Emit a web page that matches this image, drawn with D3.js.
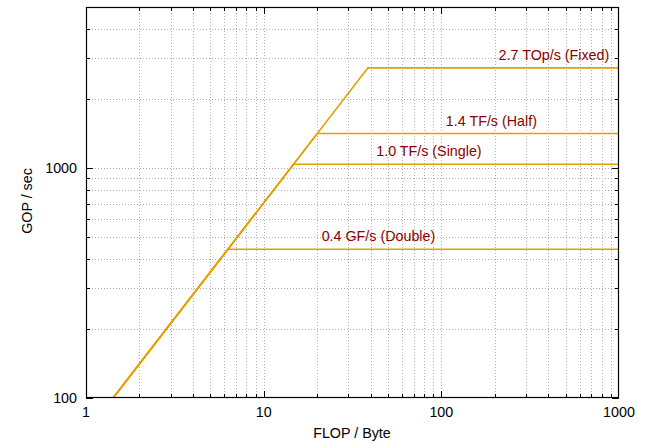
<!DOCTYPE html>
<html><head><meta charset="utf-8">
<script src="https://cdn.jsdelivr.net/npm/d3@7"></script>
<style>body{margin:0;background:#fff}svg{display:block}text{font-family:"Liberation Sans",Arial,sans-serif}</style>
</head><body><svg id="c" width="650" height="443"></svg>
<script>
// data
const seriesNames = ["Fixed", "Half", "Single", "Double"];
const peakGops = [2720, 1410, 1037, 443];
const peakLabels = ["2.7 TOp/s (Fixed)", "1.4 TF/s (Half)", "1.0 TF/s (Single)", "0.4 GF/s (Double)"];
const labelAtX = [210, 106, 43, 21.2]; // label start, in FLOP/Byte
const bandwidth = 70.4; // GB/s
const xTicks = [1, 10, 100, 1000];
const yTicks = [100, 1000];
const xDomain = [1, 1000];
const yDomain = [100, 5000];

const FS = 14.3;
const svg = d3.select("#c");
const m = {l: 86, r: 619, t: 7, b: 398};
const x = d3.scaleLog().domain(xDomain).range([m.l, m.r]);
const y = d3.scaleLog().domain(yDomain).range([m.b, m.t]);

function minorVals(dom) {
  const out = [];
  for (let d = Math.pow(10, Math.floor(Math.log10(dom[0]))); d < dom[1]; d *= 10)
    for (let k = 1; k < 10; k++) { const v = d * k; if (v >= dom[0] && v <= dom[1]) out.push(v); }
  return out;
}
const xAll = minorVals(xDomain), yAll = minorVals(yDomain);

// grid
const g = svg.append("g");
g.selectAll("line.gx").data(xAll.filter(v => v > xDomain[0] && v < xDomain[1])).join("line")
  .attr("x1", d => Math.round(x(d)) + 0.5).attr("x2", d => Math.round(x(d)) + 0.5)
  .attr("y1", m.t).attr("y2", m.b)
  .attr("stroke", "#b0b0b0").attr("stroke-dasharray", "1,2").attr("stroke-width", 1);
g.selectAll("line.gy").data(yAll.filter(v => v > yDomain[0] && v < yDomain[1])).join("line")
  .attr("y1", d => Math.round(y(d)) + 0.5).attr("y2", d => Math.round(y(d)) + 0.5)
  .attr("x1", m.l).attr("x2", m.r)
  .attr("stroke", "#b0b0b0").attr("stroke-dasharray", "1,2").attr("stroke-width", 1);

// ticks (inward, mirrored)
const isMajor = v => Math.abs(Math.log10(v) - Math.round(Math.log10(v))) < 1e-9;
const tk = svg.append("g").attr("stroke", "#000").attr("stroke-width", 1);
xAll.forEach(v => {
  const L = isMajor(v) ? 7 : 4, px = Math.round(x(v)) + 0.5;
  tk.append("line").attr("x1", px).attr("x2", px).attr("y1", m.b).attr("y2", m.b - L);
  tk.append("line").attr("x1", px).attr("x2", px).attr("y1", m.t).attr("y2", m.t + L);
});
yAll.forEach(v => {
  const L = isMajor(v) ? 7 : 4, py = Math.round(y(v)) + 0.5;
  tk.append("line").attr("y1", py).attr("y2", py).attr("x1", m.l).attr("x2", m.l + L);
  tk.append("line").attr("y1", py).attr("y2", py).attr("x1", m.r).attr("x2", m.r - L);
});

// roofline series
svg.append("clipPath").attr("id", "clip").append("rect")
  .attr("x", m.l).attr("y", m.t).attr("width", m.r - m.l).attr("height", m.b - m.t);
const line = d3.line().x(d => x(d[0])).y(d => y(d[1]));
const lg = svg.append("g").attr("clip-path", "url(#clip)");
peakGops.forEach((p, i) => {
  const pts = [[yDomain[0] / bandwidth, yDomain[0]], [p / bandwidth, p], [xDomain[1], p]];
  lg.append("path").attr("d", line(pts)).attr("fill", "none")
    .attr("stroke", "#e69f00").attr("stroke-width", 1.6).attr("data-series", seriesNames[i]);
});
peakGops.forEach((p, i) => {
  svg.append("text").attr("x", x(labelAtX[i])).attr("y", y(p) - 8)
    .attr("fill", "#8b0000").attr("font-size", FS).text(peakLabels[i]);
});

// frame
svg.append("rect").attr("x", m.l + 0.5).attr("y", m.t + 0.5)
  .attr("width", m.r - m.l - 1).attr("height", m.b - m.t - 1)
  .attr("fill", "none").attr("stroke", "#000").attr("stroke-width", 1.2);

// tick labels
svg.selectAll("text.xt").data(xTicks).join("text")
  .attr("x", d => x(d)).attr("y", m.b + 19).attr("text-anchor", "middle")
  .attr("font-size", FS).text(d => d);
svg.selectAll("text.yt").data(yTicks).join("text")
  .attr("x", m.l - 9).attr("y", d => y(d) + 5).attr("text-anchor", "end")
  .attr("font-size", FS).text(d => d);

// axis titles
svg.append("text").attr("x", 352).attr("y", 438).attr("text-anchor", "middle")
  .attr("font-size", FS).text("FLOP / Byte");
svg.append("text").attr("transform", "translate(32,201) rotate(-90)").attr("text-anchor", "middle")
  .attr("font-size", FS).text("GOP / sec");
</script></body></html>
